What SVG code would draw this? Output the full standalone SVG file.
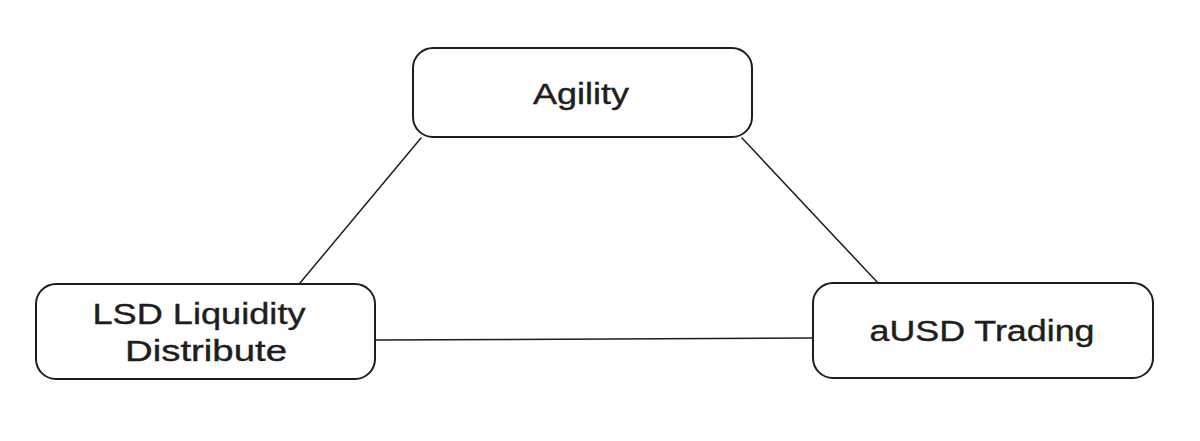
<svg xmlns="http://www.w3.org/2000/svg" width="1200" height="441" viewBox="0 0 1200 441">
<style>
.box{fill:#ffffff;stroke:#1e1e1e;stroke-width:2}
.edge{stroke:#1e1e1e;stroke-width:1.5;fill:none;stroke-linecap:round}
.lbl{font-family:"Liberation Sans",sans-serif;font-size:30px;fill:#1e1e1e;text-anchor:middle;stroke:#1e1e1e;stroke-width:0.4}
</style>
<rect width="1200" height="441" fill="#ffffff"/>
<g id="connectors">
<line class="edge" x1="421" y1="138" x2="300" y2="283"/>
<line class="edge" x1="742" y1="138" x2="878" y2="283"/>
<line class="edge" x1="375" y1="340" x2="813" y2="338"/>
</g>
<g id="agility">
<rect class="box" x="413" y="48" width="339" height="89" rx="20"/>
<text class="lbl" x="581" y="104" textLength="96" lengthAdjust="spacingAndGlyphs">Agility</text>
</g>
<g id="lsd">
<rect class="box" x="36" y="284" width="339" height="95" rx="20"/>
<text class="lbl" x="199" y="324" textLength="213" lengthAdjust="spacingAndGlyphs">LSD Liquidity</text>
<text class="lbl" x="206" y="361" textLength="162" lengthAdjust="spacingAndGlyphs">Distribute</text>
</g>
<g id="ausd">
<rect class="box" x="813" y="283" width="340" height="95" rx="20"/>
<text class="lbl" x="982" y="341" textLength="225" lengthAdjust="spacingAndGlyphs">aUSD Trading</text>
</g>
</svg>
